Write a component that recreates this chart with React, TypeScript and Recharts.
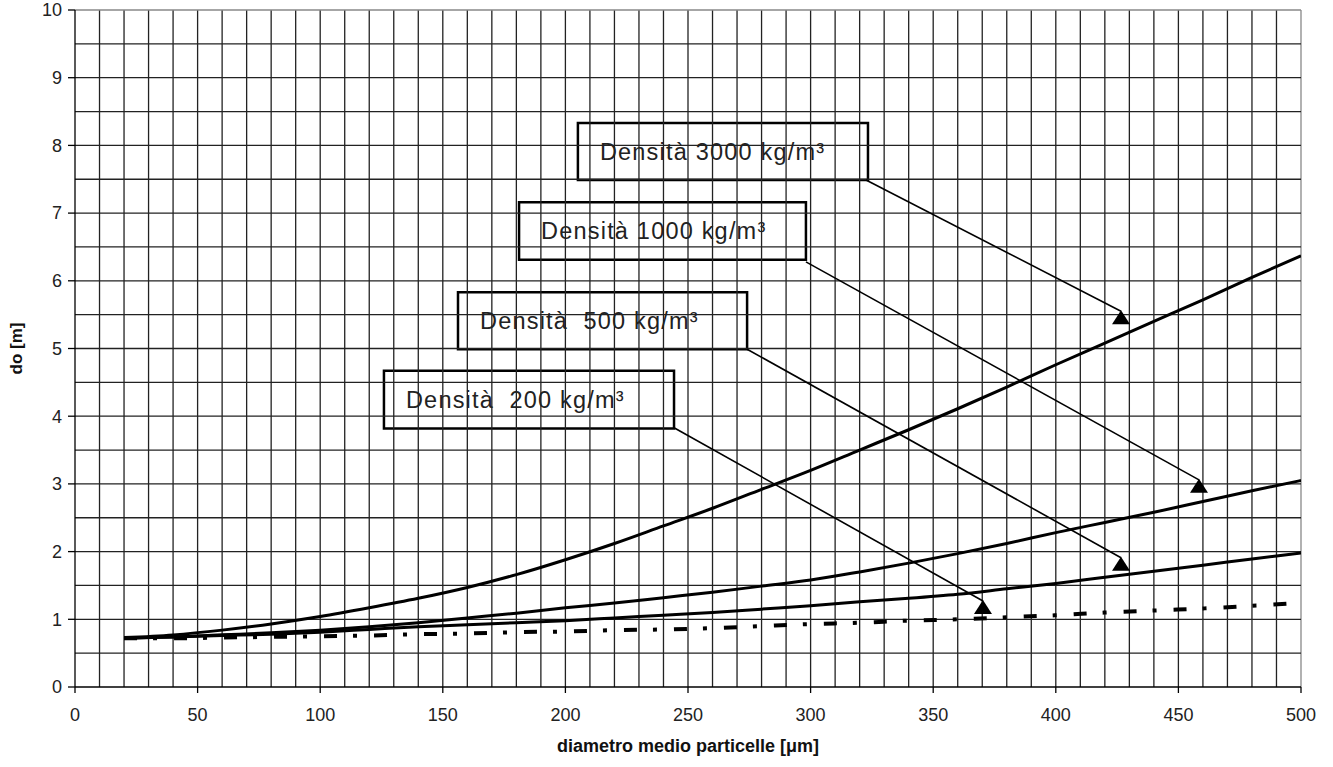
import React from 'react';
import {
  LineChart, Line, XAxis, YAxis, ReferenceArea, ReferenceLine, ReferenceDot, Label,
} from 'recharts';

const diameters = [20, 40, 60, 80, 100, 120, 140, 160, 180, 200, 220, 240, 260, 280, 300, 320, 340, 360, 380, 400, 420, 440, 460, 480, 500];
const density3000 = [0.73, 0.77, 0.84, 0.93, 1.04, 1.17, 1.31, 1.47, 1.66, 1.88, 2.12, 2.38, 2.64, 2.92, 3.2, 3.5, 3.8, 4.11, 4.43, 4.76, 5.08, 5.4, 5.72, 6.05, 6.37];
const density1000 = [0.72, 0.74, 0.77, 0.8, 0.84, 0.89, 0.95, 1.02, 1.09, 1.17, 1.24, 1.32, 1.4, 1.49, 1.58, 1.7, 1.83, 1.97, 2.12, 2.28, 2.43, 2.58, 2.74, 2.9, 3.05];
const density500 = [0.72, 0.74, 0.76, 0.78, 0.81, 0.85, 0.89, 0.92, 0.95, 0.98, 1.02, 1.06, 1.1, 1.15, 1.2, 1.26, 1.31, 1.37, 1.45, 1.53, 1.62, 1.71, 1.8, 1.89, 1.98];
const density200 = [0.72, 0.72, 0.73, 0.74, 0.75, 0.76, 0.78, 0.79, 0.81, 0.82, 0.84, 0.85, 0.87, 0.9, 0.93, 0.95, 0.98, 1.0, 1.03, 1.06, 1.1, 1.13, 1.16, 1.2, 1.24];

const xTicks = [0, 50, 100, 150, 200, 250, 300, 350, 400, 450, 500];
const yTicks = [0, 1, 2, 3, 4, 5, 6, 7, 8, 9, 10];
const xGrid = [10, 20, 30, 40, 50, 60, 70, 80, 90, 100, 110, 120, 130, 140, 150, 160, 170, 180, 190, 200, 210, 220, 230, 240, 250, 260, 270, 280, 290, 300, 310, 320, 330, 340, 350, 360, 370, 380, 390, 400, 410, 420, 430, 440, 450, 460, 470, 480, 490, 500];
const yGrid = [0.5, 1, 1.5, 2, 2.5, 3, 3.5, 4, 4.5, 5, 5.5, 6, 6.5, 7, 7.5, 8, 8.5, 9, 9.5, 10];

const labelTexts = ['Densità 3000 kg/m³', 'Densità 1000 kg/m³', 'Densità\u00A0\u00A0500 kg/m³', 'Densità\u00A0\u00A0200 kg/m³'];
// boxes: [x1, x2, y1, y2]
const boxX1 = [205.1, 181.1, 156.2, 126.0];
const boxX2 = [323.4, 298.1, 274.1, 244.3];
const boxYTop = [8.33, 7.16, 5.83, 4.67];
const boxYBottom = [7.49, 6.31, 4.99, 3.82];
// arrows
const arrowStartX = [322.6, 298.1, 274.1, 244.3];
const arrowStartY = [7.49, 6.28, 4.99, 3.83];
const arrowEndX = [426.6, 458.4, 426.6, 370.3];
const arrowEndY = [5.55, 3.06, 1.91, 1.27];

const data = diameters.map((d, i) => ({
  d,
  r3000: density3000[i],
  r1000: density1000[i],
  r500: density500[i],
  r200: density200[i],
}));

const FONT = '"Liberation Sans", Arial, Helvetica, sans-serif';

const Triangle = (props: any) => {
  const { cx, cy } = props;
  if (cx == null || cy == null) return null;
  return <polygon points={`${cx},${cy - 1} ${cx - 9},${cy + 13} ${cx + 9},${cy + 13}`} fill="#000" />;
};

export default function App() {
  return (
    <div style={{ position: 'absolute', left: 0, top: 0, width: 1333, height: 767, background: '#fff' }}>
      <LineChart
        width={1333}
        height={767}
        data={data}
        margin={{ top: 10, right: 32, bottom: 50, left: 15 }}
        style={{ fontFamily: FONT }}
      >
        <XAxis
          type="number"
          dataKey="d"
          domain={[0, 500]}
          ticks={xTicks}
          interval={0}
          allowDataOverflow
          stroke="#000"
          strokeWidth={1.3}
          tickSize={6}
          tickMargin={15}
          height={30}
          tick={{ fontSize: 18, fill: '#222', fontFamily: FONT }}
        >
          <Label
            value="diametro medio particelle [μm]"
            position="bottom"
            offset={22}
            style={{ fontSize: 18, fontWeight: 'bold', fill: '#111', fontFamily: FONT }}
          />
        </XAxis>
        <YAxis
          type="number"
          domain={[0, 10]}
          ticks={yTicks}
          interval={0}
          allowDataOverflow
          stroke="#000"
          strokeWidth={1.3}
          tickSize={7}
          tickMargin={6}
          width={60}
          tick={{ fontSize: 18, fill: '#222', fontFamily: FONT }}
        >
          <Label
            value="do [m]"
            angle={-90}
            position="insideLeft"
            offset={1}
            style={{ fontSize: 17, fontWeight: 'bold', fill: '#111', fontFamily: FONT, textAnchor: 'middle' }}
          />
        </YAxis>

        {xGrid.map((v) => (
          <ReferenceLine key={'gx' + v} x={v} stroke={v === 500 ? '#888' : '#222'} strokeWidth={1.3} />
        ))}
        {yGrid.map((v) => (
          <ReferenceLine key={'gy' + v} y={v} stroke={v === 10 ? '#888' : '#222'} strokeWidth={1.3} />
        ))}

        <Line type="monotone" dataKey="r3000" stroke="#000" strokeWidth={3} dot={false} isAnimationActive={false} />
        <Line type="monotone" dataKey="r1000" stroke="#000" strokeWidth={3} dot={false} isAnimationActive={false} />
        <Line type="monotone" dataKey="r500" stroke="#000" strokeWidth={3} dot={false} isAnimationActive={false} />
        <Line type="monotone" dataKey="r200" stroke="#000" strokeWidth={4} strokeDasharray="13 16 4 17" dot={false} isAnimationActive={false} />

        {labelTexts.map((t, i) => (
          <ReferenceLine
            key={'a' + i}
            segment={[{ x: arrowStartX[i], y: arrowStartY[i] }, { x: arrowEndX[i], y: arrowEndY[i] }]}
            stroke="#000"
            strokeWidth={1.6}
            ifOverflow="visible"
          />
        ))}
        {labelTexts.map((t, i) => (
          <ReferenceDot
            key={'h' + i}
            x={arrowEndX[i]}
            y={arrowEndY[i]}
            r={9}
            shape={Triangle}
            ifOverflow="visible"
          />
        ))}
        {labelTexts.map((t, i) => (
          <ReferenceArea
            key={'b' + i}
            x1={boxX1[i]}
            x2={boxX2[i]}
            y1={boxYBottom[i]}
            y2={boxYTop[i]}
            fill="#fff"
            fillOpacity={1}
            stroke="#000"
            strokeWidth={2.5}
            ifOverflow="visible"
            label={{ value: t, position: 'insideLeft', offset: 22, fontSize: 23.5, letterSpacing: 1.2, fill: '#222', fontFamily: FONT }}
          />
        ))}
      </LineChart>
    </div>
  );
}
